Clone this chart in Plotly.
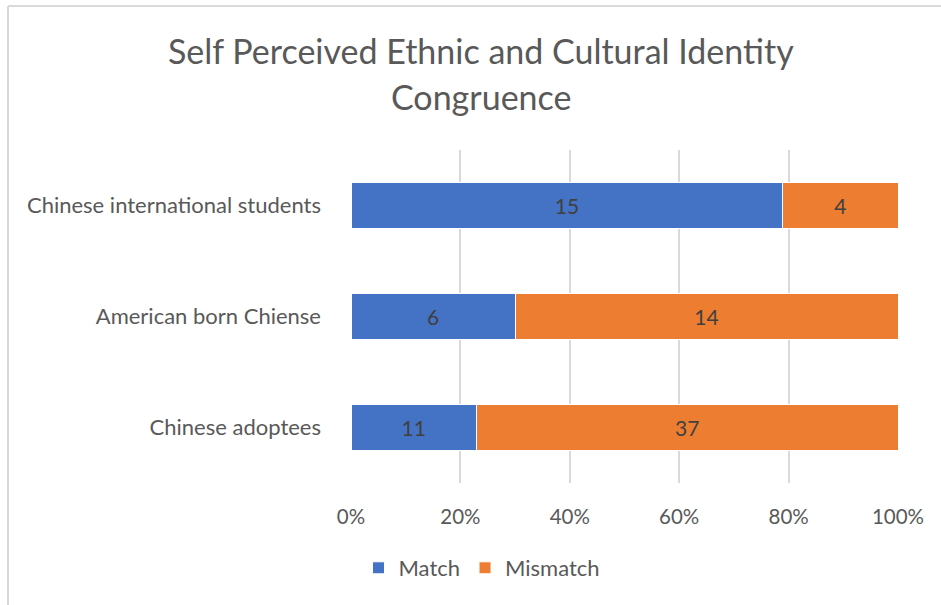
import plotly.graph_objects as go

categories = ["Chinese international students", "American born Chiense", "Chinese adoptees"]
match_vals = [15, 6, 11]
mismatch_vals = [4, 14, 37]
x_ticks = [0, 20, 40, 60, 80, 100]
x_tick_labels = ["0%", "20%", "40%", "60%", "80%", "100%"]

W, H = 941, 605
L, R, T, B = 351, 43, 150, 122
pw, ph = W - L - R, H - T - B

def px_x(p):
    return (p - L) / pw

def px_y(p):
    return (H - B - p) / ph

FONT = "Lato"
TXT = "#595959"

fig = go.Figure()
fig.add_trace(go.Bar(
    y=categories, x=match_vals, name="Match", orientation="h",
    marker=dict(color="#4472C4", line=dict(color="white", width=1)),
    text=match_vals, textposition="inside", insidetextanchor="middle",
    textfont=dict(color="#404040", size=21, family=FONT),
))
fig.add_trace(go.Bar(
    y=categories, x=mismatch_vals, name="Mismatch", orientation="h",
    marker=dict(color="#ED7D31", line=dict(color="white", width=1)),
    text=mismatch_vals, textposition="inside", insidetextanchor="middle",
    textfont=dict(color="#404040", size=21, family=FONT),
))

fig.update_layout(
    width=W, height=H,
    margin=dict(l=L, r=R, t=T, b=B, autoexpand=False),
    barmode="stack", barnorm="percent", bargap=0.59,
    plot_bgcolor="white", paper_bgcolor="white",
    font=dict(family=FONT, color=TXT, size=20),
    uniformtext=dict(minsize=10, mode="show"),
    xaxis=dict(range=[0, 100], tickvals=x_ticks, ticktext=x_tick_labels,
               showgrid=True, gridcolor="#d9d9d9", gridwidth=1.5,
               zeroline=False, showline=False, ticks="",
               ticklabelstandoff=19, tickfont=dict(size=20.5, color=TXT)),
    yaxis=dict(autorange="reversed", showgrid=False, zeroline=False,
               showline=False, ticks="", ticklabelstandoff=29,
               tickfont=dict(size=22, color=TXT)),
    legend=dict(orientation="h", x=px_x(482), xanchor="center",
                y=px_y(568), yanchor="middle",
                font=dict(size=22, color=TXT), traceorder="normal",
                itemwidth=30),
    showlegend=True,
    annotations=[
        dict(text="Self Perceived Ethnic and Cultural Identity", xref="paper", yref="paper",
             x=px_x(481), y=px_y(50), xanchor="center", yanchor="middle",
             showarrow=False, font=dict(size=34, color=TXT, family=FONT)),
        dict(text="Congruence", xref="paper", yref="paper",
             x=px_x(481), y=px_y(97), xanchor="center", yanchor="middle",
             showarrow=False, font=dict(size=34, color=TXT, family=FONT)),
    ],
    shapes=[
        dict(type="line", xref="paper", yref="paper", x0=px_x(8), x1=px_x(945),
             y0=px_y(6), y1=px_y(6), line=dict(color="#d9d9d9", width=2)),
        dict(type="line", xref="paper", yref="paper", x0=px_x(8), x1=px_x(8),
             y0=px_y(6), y1=px_y(610), line=dict(color="#d9d9d9", width=2)),
    ],
)

fig.write_html("out.html")
